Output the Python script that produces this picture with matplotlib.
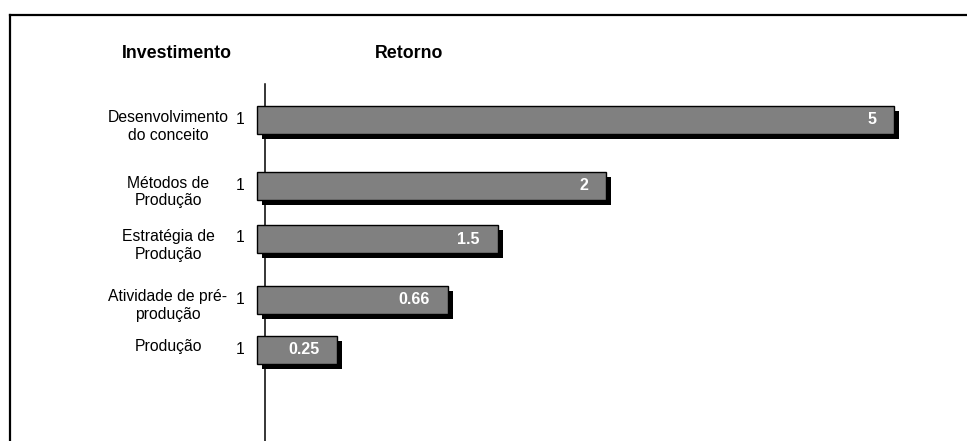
import matplotlib
matplotlib.use("Agg")
import matplotlib.pyplot as plt
from matplotlib.lines import Line2D

plt.rcParams['font.family'] = ['Liberation Sans', 'DejaVu Sans']

# dados
categorias = ["Desenvolvimento\ndo conceito", "Métodos de\nProdução", "Estratégia de\nProdução",
              "Atividade de pré-\nprodução", "Produção"]
investimento = ["1", "1", "1", "1", "1"]
retorno = ["5", "2", "1.5", "0.66", "0.25"]
# comprimento desenhado das barras (não proporcional aos rótulos no original)
comprimento = [5.0, 2.74, 1.89, 1.50, 0.63]

W, H = 967, 441
fig = plt.figure(figsize=(W / 100, H / 100), dpi=100)
ax = fig.add_axes([0, 0, 1, 1])

# escala: x=0 no pixel 257, 1 unidade = 127.4 px ; y em pixels (invertido)
px = 127.4
x0 = 257
ax.set_xlim(-x0 / px, (W - x0) / px)
ax.set_ylim(H, 0)
ax.axis('off')

ypos = [120, 186, 239, 300, 350]
altura = 28
dx, dy = 5 / px, 5

# eixo vertical
ax.plot([8 / px, 8 / px], [84, H], color='black', lw=1.1, zorder=1)

ax.barh([y + dy for y in ypos], comprimento, left=dx, height=altura,
        color='black', zorder=2)
ax.barh(ypos, comprimento, height=altura, color='#808080',
        edgecolor='black', linewidth=1.0, zorder=3)

for y, cat, inv, ret, c in zip(ypos, categorias, investimento, retorno, comprimento):
    for i, linha in enumerate(cat.split("\n")):
        ax.text((168 - x0) / px, y - 3 + 18 * i, linha, ha='center', va='center',
                fontsize=11.3)
    ax.text((240 - x0) / px, y - 1, inv, ha='center', va='center', fontsize=11.3)
    ax.text(c - 18 / px, y, ret, ha='right', va='center', fontsize=11.5,
            fontweight='bold', color='white', zorder=4)

ax.text((177 - x0) / px, 53, "Investimento", ha='center', va='center',
        fontsize=12.8, fontweight='bold')
ax.text((409 - x0) / px, 53, "Retorno", ha='center', va='center',
        fontsize=12.8, fontweight='bold')

# moldura (cortada à direita e em baixo)
fig.add_artist(Line2D([10 / W, 10 / W], [0, 1 - 15 / H], color='black', lw=1.6))
fig.add_artist(Line2D([10 / W, 1], [1 - 15 / H, 1 - 15 / H], color='black', lw=1.6))

fig.savefig("out.png", dpi=100)
